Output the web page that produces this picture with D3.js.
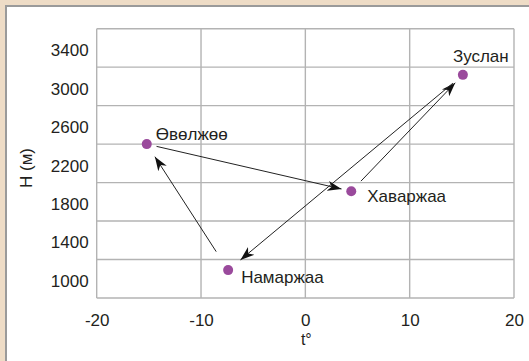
<!DOCTYPE html>
<html>
<head>
<meta charset="utf-8">
<script src="https://cdn.jsdelivr.net/npm/d3@7"></script>
<style>
  html, body { margin: 0; padding: 0; background: #eedcc6; }
  svg { display: block; }
  text { font-family: "Liberation Sans", Arial, sans-serif; fill: #231f20; }
</style>
</head>
<body>
<div id="chart"></div>
<script>
// Seasonal camps: temperature (t°) and altitude (H, m)
var camps = ["Өвөлжөө", "Хаваржаа", "Зуслан", "Намаржаа"];
var temps = [-15.2, 4.4, 15.1, -7.4];
var heights = [2400, 1910, 3120, 1090];

// arrows go round the year: winter -> spring -> summer -> autumn -> winter
var arrowFrom = [0, 1, 2, 3];
var arrowTo = [1, 2, 3, 0];

var xTicks = [-20, -10, 0, 10, 20];
var yGrid = [800, 1200, 1600, 2000, 2400, 2800, 3200, 3600];
var yLabels = [1000, 1400, 1800, 2200, 2600, 3000, 3400];

var width = 529, height = 361;
var margin = { left: 96.7, right: 15, top: 28.7, bottom: 63 };

// label placement next to each point (dx, dy)
var labelOffset = [[9, -10], [16, 5], [-10, -19], [13, 7]];
// gap in px at start / end of every arrow
var arrowGap = [[10, 10], [14, 11], [13, 16], [22, 15]];

var svg = d3.select("#chart").append("svg")
    .attr("width", width)
    .attr("height", height);

// white panel with grey frame on left and top
svg.append("rect")
    .attr("x", 6).attr("y", 6)
    .attr("width", width).attr("height", height)
    .attr("fill", "#ffffff");
svg.append("path")
    .attr("d", "M6,361 L6,6 L529,6")
    .attr("fill", "none")
    .attr("stroke", "#9a9a9a")
    .attr("stroke-width", 2);

var x = d3.scaleLinear()
    .domain([-20, 20])
    .range([margin.left, width - margin.right]);

var y = d3.scaleLinear()
    .domain([800, 3600])
    .range([height - margin.bottom, margin.top]);

// grid
var grid = svg.append("g").attr("class", "grid");
grid.selectAll(".vg")
    .data(xTicks)
    .enter().append("line")
    .attr("x1", function (d) { return x(d); })
    .attr("x2", function (d) { return x(d); })
    .attr("y1", y(800))
    .attr("y2", y(3600));
grid.selectAll(".hg")
    .data(yGrid)
    .enter().append("line")
    .attr("x1", x(-20))
    .attr("x2", x(20))
    .attr("y1", function (d) { return y(d); })
    .attr("y2", function (d) { return y(d); });
grid.selectAll("line")
    .attr("stroke", "#b3b3b3")
    .attr("stroke-width", 1.4);

// axes (labels only)
var xAxis = svg.append("g")
    .attr("transform", "translate(0," + y(800) + ")")
    .call(d3.axisBottom(x).tickValues(xTicks).tickSize(0).tickPadding(16).tickFormat(d3.format("d")));
var yAxis = svg.append("g")
    .attr("transform", "translate(" + x(-20) + ",0)")
    .call(d3.axisLeft(y).tickValues(yLabels).tickSize(0).tickPadding(8).tickFormat(d3.format("d")));

[xAxis, yAxis].forEach(function (a) {
    a.select(".domain").remove();
    a.selectAll("text")
        .style("font-family", "'Liberation Sans', Arial, sans-serif")
        .style("font-size", "17px")
        .attr("fill", "#231f20");
});
xAxis.selectAll("text").text(function (d) { return d < 0 ? "-" + Math.abs(d) : d; });
yAxis.selectAll("text").attr("dy", "0.45em");

svg.append("text")
    .attr("x", x(0) + 1)
    .attr("y", 345)
    .attr("text-anchor", "middle")
    .style("font-size", "16px")
    .text("t°");

svg.append("text")
    .attr("transform", "translate(32,168) rotate(-90)")
    .attr("text-anchor", "middle")
    .style("font-size", "17px")
    .text("Н (м)");

// arrow head
svg.append("defs").append("marker")
    .attr("id", "head")
    .attr("viewBox", "-14 -6 16 12")
    .attr("refX", 0).attr("refY", 0)
    .attr("markerWidth", 16).attr("markerHeight", 12)
    .attr("markerUnits", "userSpaceOnUse")
    .attr("orient", "auto")
    .append("path")
    .attr("d", "M0,0 L-14,-5 L-10,0 L-14,5 Z")
    .attr("fill", "#111");

var arrows = svg.append("g");
arrowFrom.forEach(function (a, i) {
    var b = arrowTo[i];
    var x1 = x(temps[a]), y1 = y(heights[a]);
    var x2 = x(temps[b]), y2 = y(heights[b]);
    var len = Math.sqrt((x2 - x1) * (x2 - x1) + (y2 - y1) * (y2 - y1));
    var ux = (x2 - x1) / len, uy = (y2 - y1) / len;
    arrows.append("line")
        .attr("x1", x1 + ux * arrowGap[i][0])
        .attr("y1", y1 + uy * arrowGap[i][0])
        .attr("x2", x2 - ux * arrowGap[i][1])
        .attr("y2", y2 - uy * arrowGap[i][1])
        .attr("stroke", "#222")
        .attr("stroke-width", 1)
        .attr("marker-end", "url(#head)");
});

// points
svg.selectAll(".pt")
    .data(camps)
    .enter().append("circle")
    .attr("class", "pt")
    .attr("cx", function (d, i) { return x(temps[i]); })
    .attr("cy", function (d, i) { return y(heights[i]); })
    .attr("r", 5)
    .attr("fill", "#9a4a9c");

svg.selectAll(".lbl")
    .data(camps)
    .enter().append("text")
    .attr("class", "lbl")
    .attr("x", function (d, i) { return x(temps[i]) + labelOffset[i][0]; })
    .attr("y", function (d, i) { return y(heights[i]) + labelOffset[i][1]; })
    .attr("dy", "0.35em")
    .style("font-size", "17px")
    .text(function (d) { return d; });
</script>
</body>
</html>
